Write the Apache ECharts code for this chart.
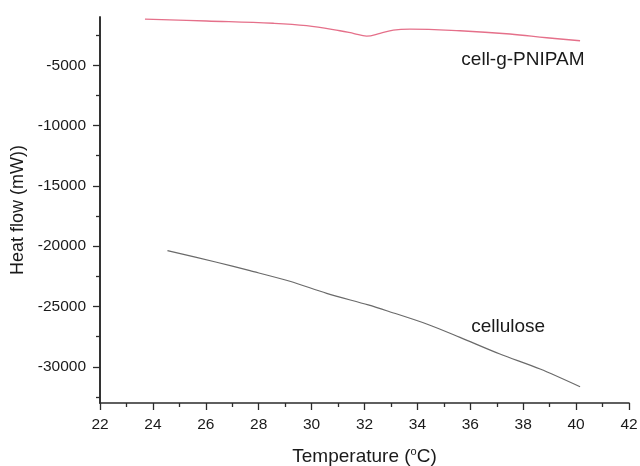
<!DOCTYPE html>
<html>
<head>
<meta charset="utf-8">
<script src="https://cdn.jsdelivr.net/npm/echarts@6/dist/echarts.min.js"></script>
<style>
  html, body { margin: 0; padding: 0; background: #fff; }
  #chart { width: 640px; height: 466px; }
</style>
</head>
<body>
<div id="chart"></div>
<script>
// DSC heat-flow curves
const tempPnipam = [23.70, 26.03, 28.55, 29.81, 31.07, 31.60, 32.08, 32.59, 33.09, 33.72, 35.61, 37.50, 38.89, 40.15];
const heatPnipam = [-1170, -1330, -1520, -1720, -2140, -2370, -2580, -2350, -2080, -2000, -2140, -2410, -2720, -2970];

const tempCellulose = [24.55, 26.41, 27.67, 29.18, 30.57, 32.14, 32.84, 34.35, 35.61, 37.12, 38.64, 40.15];
const heatCellulose = [-20370, -21330, -22030, -22910, -23910, -24870, -25350, -26450, -27560, -28940, -30180, -31650];

const yLabelValues = [-30000, -25000, -20000, -15000, -10000, -5000];
const yMinorValues = [-32500, -27500, -22500, -17500, -12500, -7500, -2500];

const seriesNames = ['cell-g-PNIPAM', 'cellulose'];
const seriesLabelPos = [[37.99, -4570], [37.43, -26640]];

const pair = (xs, ys) => xs.map((x, i) => [x, ys[i]]);

const axisColor = '#2b2b2b';
const font = 'Liberation Sans, Arial, sans-serif';

const chart = echarts.init(document.getElementById('chart'), null, { renderer: 'canvas' });

const yBase = {
  type: 'value',
  min: -33000,
  max: -1000,
  position: 'left',
  splitLine: { show: false },
  axisLine: { show: true, lineStyle: { color: axisColor, width: 1.6 } }
};

function textLabel(name, coord) {
  return {
    symbol: 'circle',
    symbolSize: 0,
    silent: true,
    data: [{
      coord: coord,
      label: {
        show: true,
        position: 'inside',
        formatter: name,
        color: '#1a1a1a',
        fontSize: 19,
        fontFamily: font
      }
    }]
  };
}

chart.setOption({
  animation: false,
  backgroundColor: '#ffffff',
  grid: { left: 100, right: 11, top: 17, bottom: 63, containLabel: false, outerBoundsMode: 'none' },
  xAxis: {
    type: 'value',
    min: 22,
    max: 42,
    interval: 2,
    name: 'Temperature ({sup|o}C)',
    nameLocation: 'middle',
    nameGap: 43,
    nameTextStyle: {
      fontSize: 19,
      color: '#1a1a1a',
      fontFamily: font,
      rich: {
        sup: { fontSize: 11, color: '#1a1a1a', fontFamily: font, padding: [0, 0, 10, 0] }
      }
    },
    splitLine: { show: false },
    axisLine: { show: true, onZero: false, lineStyle: { color: axisColor, width: 1.6 } },
    axisTick: { show: true, length: 7, lineStyle: { color: axisColor, width: 1.3 } },
    minorTick: { show: true, splitNumber: 2, length: 4, lineStyle: { color: axisColor, width: 1.3 } },
    axisLabel: { fontSize: 15.5, color: '#1a1a1a', fontFamily: font, margin: 14 }
  },
  yAxis: [
    Object.assign({}, yBase, {
      name: 'Heat flow (mW))',
      nameLocation: 'middle',
      nameGap: 71,
      nameTextStyle: { fontSize: 18, color: '#1a1a1a', fontFamily: font },
      axisTick: { show: true, length: 7, customValues: yLabelValues, lineStyle: { color: axisColor, width: 1.3 } },
      axisLabel: {
        fontSize: 15.5, color: '#1a1a1a', fontFamily: font, margin: 14,
        customValues: yLabelValues,
        formatter: v => String(v)
      }
    }),
    Object.assign({}, yBase, {
      axisTick: { show: true, length: 4, customValues: yMinorValues, lineStyle: { color: axisColor, width: 1.3 } },
      axisLabel: { show: false }
    })
  ],
  series: [
    {
      name: seriesNames[0],
      type: 'line',
      data: pair(tempPnipam, heatPnipam),
      smooth: 0.4,
      showSymbol: false,
      lineStyle: { color: '#e5708a', width: 1.3 },
      markPoint: textLabel(seriesNames[0], seriesLabelPos[0])
    },
    {
      name: seriesNames[1],
      type: 'line',
      data: pair(tempCellulose, heatCellulose),
      smooth: 0.3,
      showSymbol: false,
      lineStyle: { color: '#6a6a6a', width: 1.2 },
      markPoint: textLabel(seriesNames[1], seriesLabelPos[1])
    }
  ]
});
</script>
</body>
</html>
